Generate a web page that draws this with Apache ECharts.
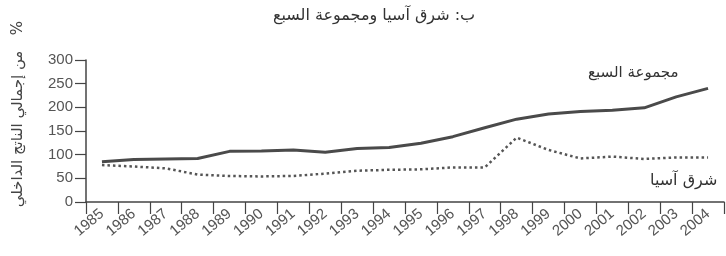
<!DOCTYPE html>
<html>
<head>
<meta charset="utf-8">
<script src="https://cdn.jsdelivr.net/npm/echarts@6/dist/echarts.min.js"></script>
<style>
  html, body { margin: 0; padding: 0; background: #fff; }
  #main { width: 726px; height: 256px; }
</style>
</head>
<body>
<div id="main"></div>
<script>
// السنوات
const years = ["1985", "1986", "1987", "1988", "1989", "1990", "1991", "1992", "1993", "1994",
  "1995", "1996", "1997", "1998", "1999", "2000", "2001", "2002", "2003", "2004"];
// مجموعة السبع
const g7 = [85, 90, 91, 92, 107, 108, 110, 105, 113, 115,
  124, 138, 157, 175, 186, 191, 194, 199, 222, 240];
// شرق آسيا
const eastAsia = [78, 75, 71, 58, 55, 54, 55, 60, 66, 68,
  69, 73, 73, 136, 110, 92, 96, 91, 94, 94];
const yTicks = [0, 300, 50];

const arFont = "DejaVu Sans";
const numFont = "Liberation Sans, Arial";

const chart = echarts.init(document.getElementById("main"));
chart.setOption({
  animation: false,
  backgroundColor: "#fff",
  title: {
    text: "ب: شرق آسيا ومجموعة السبع",
    left: 369,
    top: 3,
    textAlign: "center",
    textStyle: { fontFamily: arFont, fontSize: 16, fontWeight: "normal", color: "#333" }
  },
  grid: { left: 86, right: 2, top: 60, bottom: 54 },
  xAxis: {
    type: "category",
    data: years,
    boundaryGap: true,
    axisLine: { lineStyle: { color: "#444", width: 1.5 } },
    axisTick: { show: true, length: 12, lineStyle: { color: "#444", width: 1.2 } },
    axisLabel: { rotate: 40, margin: 10, fontFamily: numFont, fontSize: 15, color: "#555", interval: 0 }
  },
  yAxis: {
    type: "value",
    min: yTicks[0],
    max: yTicks[1],
    interval: yTicks[2],
    axisLine: { show: true, lineStyle: { color: "#444", width: 1.5 } },
    axisTick: { show: true, length: 11, lineStyle: { color: "#444", width: 1.2 } },
    splitLine: { show: false },
    axisLabel: { margin: 13, fontFamily: numFont, fontSize: 15, color: "#555" }
  },
  series: [
    {
      name: "مجموعة السبع",
      type: "line",
      data: g7,
      symbol: "none",
      lineStyle: { color: "#4a4a4a", width: 3 }
    },
    {
      name: "شرق آسيا",
      type: "line",
      data: eastAsia,
      symbol: "none",
      lineStyle: { color: "#555", width: 2.5, type: [2.5, 3] }
    }
  ],
  graphic: [
    {
      // عنوان المحور الرأسي
      type: "text",
      x: 18,
      y: 129,
      rotation: Math.PI / 2,
      style: {
        text: "من إجمالي الناتج الداخلي",
        font: "15px " + arFont,
        fill: "#444",
        align: "center",
        verticalAlign: "middle"
      }
    },
    {
      type: "text",
      x: 18,
      y: 28,
      rotation: Math.PI / 2,
      style: { text: "%", font: "15px " + arFont, fill: "#444", align: "center", verticalAlign: "middle" }
    },
    {
      type: "text",
      left: 588,
      top: 66,
      style: { text: "مجموعة السبع", font: "15px " + arFont, fill: "#333" }
    },
    {
      type: "text",
      left: 650,
      top: 173,
      style: { text: "شرق آسيا", font: "16px " + arFont, fill: "#333" }
    }
  ]
});
</script>
</body>
</html>
